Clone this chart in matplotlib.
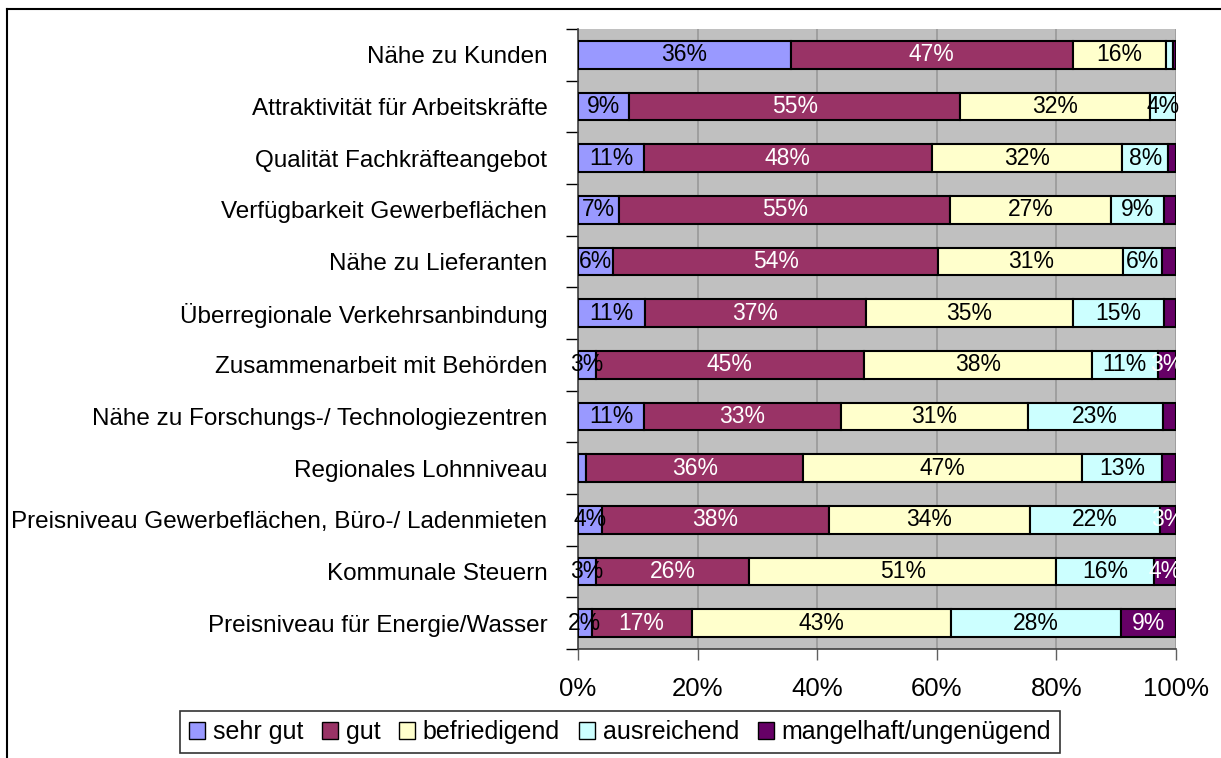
import matplotlib
matplotlib.use("Agg")
import matplotlib.pyplot as plt
import numpy as np
from matplotlib.lines import Line2D

plt.rcParams['font.family'] = ['Liberation Sans', 'DejaVu Sans']

categories = [
    "Nähe zu Kunden",
    "Attraktivität für Arbeitskräfte",
    "Qualität Fachkräfteangebot",
    "Verfügbarkeit Gewerbeflächen",
    "Nähe zu Lieferanten",
    "Überregionale Verkehrsanbindung",
    "Zusammenarbeit mit Behörden",
    "Nähe zu Forschungs-/ Technologiezentren",
    "Regionales Lohnniveau",
    "Preisniveau Gewerbeflächen, Büro-/ Ladenmieten",
    "Kommunale Steuern",
    "Preisniveau für Energie/Wasser",
]
series_names = ["sehr gut", "gut", "befriedigend", "ausreichend", "mangelhaft/ungenügend"]

sehr_gut     = [35.6, 8.6, 11.0, 6.9, 5.9, 11.2, 3.0, 11.0, 1.3, 4.0, 3.0, 2.3]
gut          = [47.1, 55.3, 48.2, 55.3, 54.3, 36.9, 44.8, 33.0, 36.4, 37.9, 25.6, 16.7]
befriedigend = [15.6, 31.7, 31.8, 27.0, 31.0, 34.7, 38.1, 31.2, 46.6, 33.7, 51.4, 43.4]
ausreichend  = [1.2, 4.4, 7.7, 8.8, 6.4, 15.2, 11.1, 22.6, 13.3, 21.7, 16.4, 28.4]
mangelhaft   = [0.5, 0.0, 1.3, 2.0, 2.4, 2.0, 3.0, 2.2, 2.4, 2.7, 3.6, 9.2]

# which data labels are shown in the original (1 = shown)
show_sehr_gut     = [1, 1, 1, 1, 1, 1, 1, 1, 0, 1, 1, 1]
show_gut          = [1] * 12
show_befriedigend = [1] * 12
show_ausreichend  = [0, 1, 1, 1, 1, 1, 1, 1, 1, 1, 1, 1]
show_mangelhaft   = [0, 0, 0, 0, 0, 0, 1, 0, 0, 1, 1, 1]

colors = ["#9999FF", "#993366", "#FFFFCC", "#CCFFFF", "#660066"]
label_colors = ["black", "white", "black", "black", "white"]

data = [sehr_gut, gut, befriedigend, ausreichend, mangelhaft]
shows = [show_sehr_gut, show_gut, show_befriedigend, show_ausreichend, show_mangelhaft]

fig = plt.figure(figsize=(12.21, 7.58), dpi=100)
ax = fig.add_axes([578/1221, 1 - 649/758, (1176-578)/1221, (649-29)/758])
ax.set_facecolor("#C0C0C0")

y = np.arange(len(categories))
left = np.zeros(len(categories))
handles = []
for vals, col, lc, sh, name in zip(data, colors, label_colors, shows, series_names):
    vals = np.array(vals, dtype=float)
    bars = ax.barh(y, vals, left=left, height=0.54, color=col, edgecolor="black",
                   linewidth=1.5, label=name, zorder=3)
    handles.append(bars)
    for yi, v, l, s in zip(y, vals, left, sh):
        if s and v > 0:
            ax.text(l + v / 2, yi, f"{round(v):.0f}%", ha="center", va="center",
                    color=lc, fontsize=16.5, zorder=4)
    left += vals

ax.set_xlim(0, 100)
ax.set_ylim(len(categories) - 0.5, -0.5)
ax.set_xticks(np.arange(0, 101, 20))
ax.set_xticklabels([f"{t}%" for t in range(0, 101, 20)], fontsize=18.5)
ax.tick_params(axis="x", length=8, width=1, color="#606060", pad=12)
ax.xaxis.grid(True, color="#999999", linewidth=1.2, zorder=0)
ax.set_axisbelow(True)

ax.set_yticks(y)
ax.set_yticklabels(categories, fontsize=17.5)
ax.tick_params(axis="y", length=0, pad=22)
ax.set_yticks(np.arange(-0.5, len(categories), 1), minor=True)
ax.tick_params(axis="y", which="minor", length=9, width=1, color="black")

for s in ["top", "right"]:
    ax.spines[s].set_visible(False)
ax.spines["left"].set_color("#404040")
ax.spines["bottom"].set_color("#404040")
ax.spines["left"].set_linewidth(1.2)
ax.spines["bottom"].set_linewidth(1.2)

# outer chart frame (top and left edges visible)
fig.add_artist(Line2D([7/1221, 1.0], [1 - 9/758, 1 - 9/758], color="black", linewidth=1.5,
                      transform=fig.transFigure))
fig.add_artist(Line2D([7/1221, 7/1221], [0, 1 - 9/758], color="black", linewidth=1.5,
                      transform=fig.transFigure))

leg = fig.legend(handles=handles, labels=series_names, loc="center",
                 bbox_to_anchor=(620/1221, 1 - 732/758), ncol=5, fontsize=18,
                 frameon=True, fancybox=False, edgecolor="black",
                 handlelength=0.65, handleheight=0.65, handletextpad=0.3,
                 columnspacing=0.75, borderpad=0.35)
leg.get_frame().set_linewidth(1.2)
for h in leg.legend_handles:
    h.set_linewidth(1.0)

fig.savefig("out.png", dpi=100)
